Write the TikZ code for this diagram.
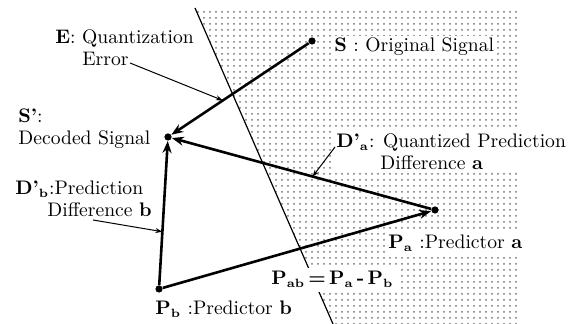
\documentclass[tikz,border=0pt]{standalone}
\usepackage{tikz}
\usetikzlibrary{positioning,arrows.meta,patterns}

\newcommand\low[1]{\textsubscript{\fontsize{6}{6}\selectfont #1}}

\begin{document}
\begin{tikzpicture}[
    x=0.5pt, y=-0.5pt,
    font=\fontsize{9.8}{11}\selectfont,
    dot/.style={circle, fill, inner sep=0pt, minimum size=3.6pt},
    vec/.style={line width=1.3pt, -{Stealth[length=6pt, width=4.5pt]}},
    pointer/.style={line width=0.5pt, -{Stealth[length=3.5pt, width=2.5pt]}},
    lbl/.style={fill=white, inner sep=1pt, align=left}
  ]
  \useasboundingbox (0,0) rectangle (569,324);
  \fill[pattern=dots, pattern color=black!55] (195,8) -- (520,8) -- (520,324) -- (333,324) -- cycle;
  \draw[line width=0.6pt] (195,8) -- (333,324);

  \node[dot] (sig) at (312,41) {};
  \node[dot] (dec) at (168,137) {};
  \node[dot] (pa) at (435,210) {};
  \node[dot] (pb) at (159,289) {};

  \draw[vec] (sig) -- (dec);
  \draw[vec] (pa) -- (dec);
  \draw[vec] (pb) -- (dec);
  \draw[vec] (pb) -- (pa);

  \node[lbl, right=8pt of sig, yshift=-3pt] (siglbl) {\textbf{S} : Original Signal};
  \node[lbl, anchor=north west] (errlbl) at (53,27) {\textbf{E}: Quantization\\\hspace*{13.5pt}Error};
  \node[lbl, anchor=north west] (declbl) at (16,106) {\textbf{S'}:\\Decoded Signal};
  \node[lbl, anchor=north west] (dalbl) at (334,131) {\textbf{D'\low{a}}: Quantized Prediction\\\hspace*{22pt}Difference \textbf{a}};
  \node[lbl, anchor=north west] (dblbl) at (13,179) {\textbf{D'\low{b}}:Prediction\\\hspace*{16pt}Difference \textbf{b}};
  \node[lbl, anchor=base west] (palbl) at (386,249) {\textbf{P\low{a}} :Predictor \textbf{a}};
  \node[lbl, anchor=base west] (pblbl) at (153,315) {\textbf{P\low{b}} :Predictor \textbf{b}};
  \node[lbl, anchor=base west, inner sep=2pt] (pablbl) at (267,285) {\textbf{P\low{ab}\,=\,P\low{a}\,-\,P\low{b}}};

  \path (sig) -- (dec) coordinate[pos=0.625] (errtip);
  \path (pa) -- (dec) coordinate[pos=0.457] (datip);
  \path (pb) -- (dec) coordinate[pos=0.37] (dbtip);
  \coordinate (errtail) at (130,63);
  \coordinate (datail) at (335,147);
  \coordinate (dbtail) at (93,220);
  \draw[pointer] (errtail) -- (errtip);
  \draw[pointer] (datail) -- (datip);
  \draw[pointer] (dbtail) -- (dbtip);
\end{tikzpicture}
\end{document}
